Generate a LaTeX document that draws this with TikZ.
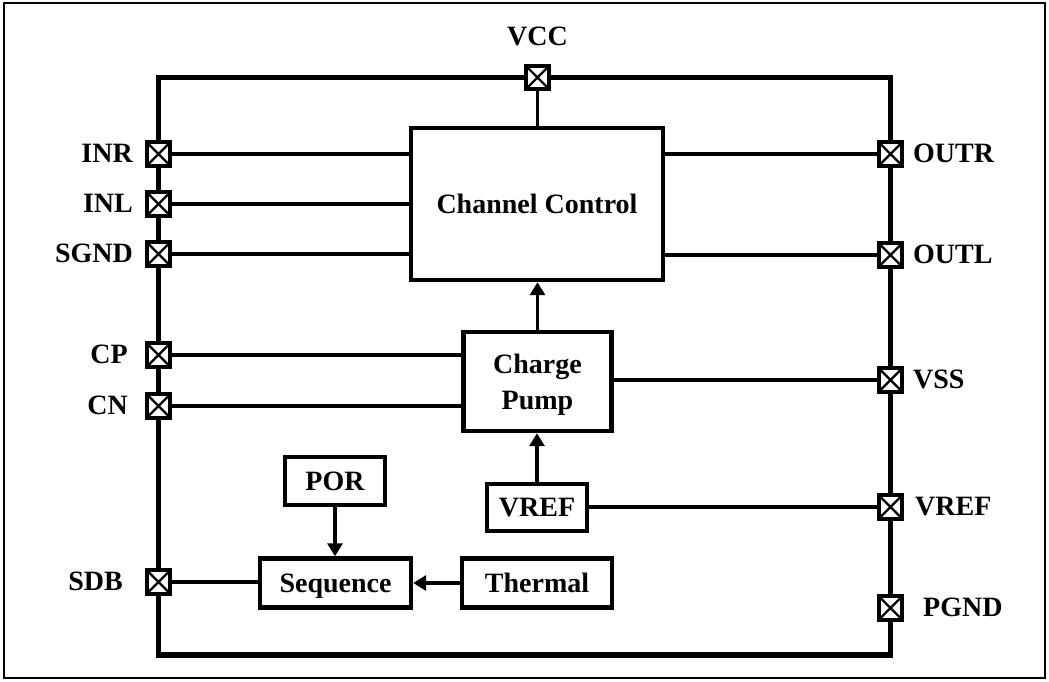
\documentclass[tikz,border=0pt]{standalone}
\usepackage{fontspec}
\setmainfont{Liberation Serif}
\usetikzlibrary{arrows.meta}
\begin{document}
\begin{tikzpicture}[x=1pt,y=-1pt,
  lbl/.style={font=\fontsize{28}{32}\selectfont\bfseries, inner sep=0pt},
  blk/.style={draw, line width=4.4pt, fill=white, font=\fontsize{28}{36}\selectfont\bfseries,
    align=center, inner sep=0pt, text depth=0pt},
  wire/.style={line width=3.2pt},
  arr/.style={line width=3.2pt, -{Triangle[length=13pt,width=15pt]}},
  pad/.style={draw, line width=4pt, fill=white, minimum size=23.5pt, inner sep=0pt, outer sep=0pt,
    path picture={\draw[line width=2.2pt] (path picture bounding box.north west) -- (path picture bounding box.south east)
      (path picture bounding box.north east) -- (path picture bounding box.south west);}}]
  % page and outer frame
  \useasboundingbox (0,0) rectangle (1049,681);
  \draw[line width=2.2pt] (4,3) rectangle (1045,678);
  % chip boundary
  \draw[line width=5.5pt] (158.5,77.5) rectangle (890.5,655);

  % pads on the boundary
  \node[pad] (pVCC) at (537.5,77.5) {};
  \node[pad] (pINR) at (158.5,154) {};
  \node[pad] (pINL) at (158.5,204) {};
  \node[pad] (pSGND) at (158.5,254) {};
  \node[pad] (pCP) at (158.5,355) {};
  \node[pad] (pCN) at (158.5,406) {};
  \node[pad] (pSDB) at (158.5,582) {};
  \node[pad] (pOUTR) at (890.5,154) {};
  \node[pad] (pOUTL) at (890.5,255) {};
  \node[pad] (pVSS) at (890.5,380) {};
  \node[pad] (pVREF) at (890.5,507) {};
  \node[pad] (pPGND) at (890.5,608) {};

  % pin labels (placed on their baselines)
  \node[lbl, anchor=base] (tVCC) at (537.5,45) {VCC};
  \node[lbl, anchor=base east] (tINR) at (133,162) {INR};
  \node[lbl, anchor=base east] (tINL) at (133,212) {INL};
  \node[lbl, anchor=base east] (tSGND) at (133,262) {SGND};
  \node[lbl, anchor=base east] (tCP) at (128,363) {CP};
  \node[lbl, anchor=base east] (tCN) at (128,414) {CN};
  \node[lbl, anchor=base east] (tSDB) at (123,590) {SDB};
  \node[lbl, anchor=base west] (tOUTR) at (913,162) {OUTR};
  \node[lbl, anchor=base west] (tOUTL) at (913,263) {OUTL};
  \node[lbl, anchor=base west] (tVSS) at (913,388) {VSS};
  \node[lbl, anchor=base west] (tVREF) at (915,515) {VREF};
  \node[lbl, anchor=base west] (tPGND) at (923,616) {PGND};

  % functional blocks
  \node[blk, minimum width=252pt, minimum height=152pt] (cc) at (537,204) {Channel Control};
  \node[blk, minimum width=148pt, minimum height=99pt] (cp) at (537.5,381.5) {Charge\\Pump};
  \node[blk, minimum width=100pt, minimum height=47pt] (vref) at (537,507.5) {VREF};
  \node[blk, minimum width=100pt, minimum height=48pt] (por) at (335,481) {POR};
  \node[blk, minimum width=151pt, minimum height=49pt] (seq) at (335.5,583) {Sequence};
  \node[blk, minimum width=150pt, minimum height=49pt] (th) at (537,583) {Thermal};

  % connections
  \draw[wire] (pVCC.south) -- (pVCC.south |- cc.north);
  \draw[wire] (pINR.east) -- (pINR.east -| cc.west);
  \draw[wire] (pINL.east) -- (pINL.east -| cc.west);
  \draw[wire] (pSGND.east) -- (pSGND.east -| cc.west);
  \draw[wire] (pOUTR.west -| cc.east) -- (pOUTR.west);
  \draw[wire] (pOUTL.west -| cc.east) -- (pOUTL.west);
  \draw[arr] (cp.north) -- (cp.north |- cc.south);
  \draw[wire] (pCP.east) -- (pCP.east -| cp.west);
  \draw[wire] (pCN.east) -- (pCN.east -| cp.west);
  \draw[wire] (pVSS.west -| cp.east) -- (pVSS.west);
  \draw[arr] (vref.north) -- (vref.north |- cp.south);
  \draw[wire] (pVREF.west -| vref.east) -- (pVREF.west);
  \draw[arr] (por.south) -- (por.south |- seq.north);
  \draw[arr] (th.west) -- (seq.east);
  \draw[wire] (pSDB.east) -- (pSDB.east -| seq.west);
\end{tikzpicture}
\end{document}
